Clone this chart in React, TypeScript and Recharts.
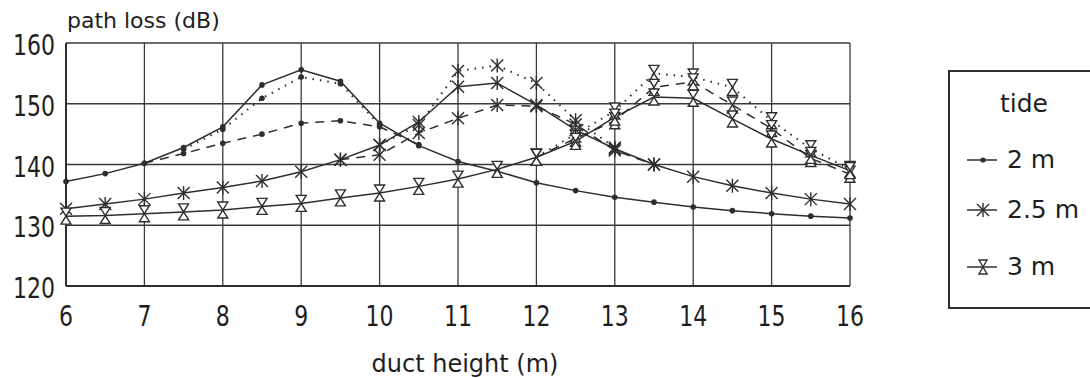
// Pfadverlust über Kanalhöhe für drei Tidenstände

import React from 'react';
import {
  LineChart,
  CartesianGrid,
  XAxis,
  YAxis,
  Line,
  Legend,
  Label,
} from 'recharts';

const INK = '#2e2e2e';
const FONT = '"DejaVu Sans", sans-serif';

// x-werte (m)
const ductHeight = [
  6, 6.5, 7, 7.5, 8, 8.5, 9, 9.5, 10, 10.5, 11, 11.5, 12, 12.5, 13, 13.5, 14,
  14.5, 15, 15.5, 16,
];

const xTicks = [6, 7, 8, 9, 10, 11, 12, 13, 14, 15, 16];
const yTicks = [120, 130, 140, 150, 160];

// tide 2 m
const tide2Solid = [
  137.2, 138.5, 140.2, 142.8, 146.2, 153.1, 155.6, 153.7, 146.8, 143.1, 140.5,
  138.9, 137.0, 135.7, 134.6, 133.8, 133.0, 132.4, 131.9, 131.5, 131.2,
];
const tide2Dotted = [
  null, null, null, 142.5, 145.8, 150.9, 154.4, 153.3, 146.5, null, null, null,
  null, null, null, null, null, null, null, null, null,
];
const tide2Dashed = [
  null, null, 140.2, 141.8, 143.5, 145.0, 146.8, 147.2, 146.2, 143.3, null,
  null, null, null, null, null, null, null, null, null, null,
];

// tide 2.5 m
const tide25Solid = [
  132.7, 133.5, 134.3, 135.3, 136.2, 137.3, 138.8, 140.8, 143.2, 147.0, 152.8,
  153.4, 149.8, 145.7, 142.6, 140.0, 138.0, 136.5, 135.3, 134.3, 133.5,
];
const tide25Dotted = [
  null, null, null, null, null, null, null, null, 143.2, 146.5, 155.4, 156.3,
  153.4, 147.3, 142.8, null, null, null, null, null, null,
];
const tide25Dashed = [
  null, null, null, null, null, null, null, 140.8, 141.6, 145.2, 147.6, 149.8,
  149.6, 146.6, 142.3, 140.0, null, null, null, null, null,
];

// tide 3 m
const tide3Solid = [
  131.5, 131.6, 131.9, 132.2, 132.5, 133.1, 133.6, 134.5, 135.3, 136.4, 137.6,
  139.2, 141.2, 143.8, 147.8, 151.1, 150.9, 147.5, 144.2, 141.5, 139.0,
];
const tide3Dotted = [
  null, null, null, null, null, null, null, null, null, null, null, null, 141.2,
  145.0, 148.8, 155.0, 154.4, 152.7, 147.2, 142.6, 139.2,
];
const tide3Dashed = [
  null, null, null, null, null, null, null, null, null, null, null, null, 141.2,
  144.3, 147.2, 152.7, 153.6, 149.8, 145.9, 141.0, 138.4,
];

const legendLabels = ['2 m', '2.5 m', '3 m'];

const chartData = ductHeight.map((d, i) => ({
  duct: d,
  t2s: tide2Solid[i],
  t2d: tide2Dotted[i],
  t2a: tide2Dashed[i],
  t25s: tide25Solid[i],
  t25d: tide25Dotted[i],
  t25a: tide25Dashed[i],
  t3s: tide3Solid[i],
  t3d: tide3Dotted[i],
  t3a: tide3Dashed[i],
}));

// marker formen
const Dot = ({ cx, cy, r = 2.8 }: any) => (
  <circle cx={cx} cy={cy} r={r} fill={INK} />
);

const Star = ({ cx, cy }: any) => (
  <g stroke={INK} strokeWidth={1.4}>
    <line x1={cx} y1={cy - 7} x2={cx} y2={cy + 7} />
    <line x1={cx - 6} y1={cy - 6} x2={cx + 6} y2={cy + 6} />
    <line x1={cx - 6} y1={cy + 6} x2={cx + 6} y2={cy - 6} />
  </g>
);

const Hourglass = ({ cx, cy, w = 5, h = 8 }: any) => (
  <path
    d={`M${cx - w},${cy - h}L${cx + w},${cy - h}L${cx - w},${cy + h}L${cx + w},${cy + h}Z`}
    fill="#fff"
    stroke={INK}
    strokeWidth={1.4}
  />
);

const markerFor = (Shape: any) => (props: any) => {
  const { cx, cy, index, dataKey } = props;
  if (cx == null || cy == null || props.value == null)
    return <g key={`${dataKey}-${index}`} />;
  return <Shape key={`${dataKey}-${index}`} cx={cx} cy={cy} />;
};

const YTick = ({ y, payload }: any) => (
  <g transform={`translate(55,${y}) scale(1,1.25)`}>
    <text x={0} y={9.6} textAnchor="end" fontSize={22} fontFamily={FONT} fill="#1e1e1e">
      {payload.value}
    </text>
  </g>
);

const XTick = ({ x, payload }: any) => (
  <g transform={`translate(${x},286) scale(1,1.3)`}>
    <text x={0} y={30.8} textAnchor="middle" fontSize={22} fontFamily={FONT} fill="#1e1e1e">
      {payload.value}
    </text>
  </g>
);

// legende als kasten rechts (rechter rand läuft aus dem bild)
const renderLegend = () => {
  const rowY = [90, 140, 197];
  const samples = [
    (cx: number, cy: number) => <Dot cx={cx} cy={cy} r={2.6} />,
    (cx: number, cy: number) => <Star cx={cx} cy={cy} />,
    (cx: number, cy: number) => <Hourglass cx={cx} cy={cy} w={4} h={7} />,
  ];
  return (
    <svg width={142} height={240} style={{ display: 'block' }}>
      <rect x={1} y={1} width={200} height={237} fill="none" stroke={INK} strokeWidth={2} />
      <text x={52} y={42} fontSize={25} fontFamily={FONT} fill="#1e1e1e">
        tide
      </text>
      {legendLabels.map((label, i) => (
        <g key={label}>
          <line x1={19} y1={rowY[i]} x2={49} y2={rowY[i]} stroke={INK} strokeWidth={1.5} />
          {samples[i](35, rowY[i])}
          <text x={59} y={rowY[i] + 8} fontSize={25} fontFamily={FONT} fill="#1e1e1e">
            {label}
          </text>
        </g>
      ))}
    </svg>
  );
};

const lineProps = {
  isAnimationActive: false,
  type: 'linear' as const,
  stroke: INK,
  strokeWidth: 1.5,
  activeDot: false,
};

const App = () => {
  return (
    <div style={{ position: 'absolute', left: 0, top: 0 }}>
      <LineChart
        width={1090}
        height={378}
        data={chartData}
        margin={{ top: 43, right: 240, bottom: 0, left: 0 }}
      >
        <CartesianGrid stroke="#3a3a3a" strokeWidth={1.3} />
        <XAxis
          dataKey="duct"
          type="number"
          domain={[6, 16]}
          ticks={xTicks}
          height={92}
          tickLine={false}
          axisLine={{ stroke: INK, strokeWidth: 2 }}
          tick={<XTick />}
          interval={0}
        >
          <Label
            content={() => (
              <text x={465} y={372} textAnchor="middle" fontSize={24} fontFamily={FONT} fill="#1e1e1e">
                duct height (m)
              </text>
            )}
          />
        </XAxis>
        <YAxis
          type="number"
          domain={[120, 160]}
          ticks={yTicks}
          width={66}
          tickLine={false}
          axisLine={{ stroke: INK, strokeWidth: 2 }}
          tick={<YTick />}
          interval={0}
        >
          <Label
            content={() => (
              <text x={67} y={28} fontSize={22} fontFamily={FONT} fill="#1e1e1e">
                path loss (dB)
              </text>
            )}
          />
        </YAxis>
        <Legend
          layout="vertical"
          align="center"
          verticalAlign="middle"
          content={renderLegend}
          wrapperStyle={{ position: 'absolute', left: 948, top: 70, width: 142, height: 240 }}
        />
        {/* gepunktete + gestrichelte varianten */}
        <Line {...lineProps} dataKey="t2d" strokeDasharray="1.5 6" strokeWidth={2} dot={markerFor(Dot)} />
        <Line {...lineProps} dataKey="t2a" strokeDasharray="9 7" dot={markerFor(Dot)} />
        <Line {...lineProps} dataKey="t25d" strokeDasharray="1.5 6" strokeWidth={2} dot={markerFor(Star)} />
        <Line {...lineProps} dataKey="t25a" strokeDasharray="9 7" dot={markerFor(Star)} />
        <Line {...lineProps} dataKey="t3d" strokeDasharray="1.5 6" strokeWidth={2} dot={markerFor(Hourglass)} />
        <Line {...lineProps} dataKey="t3a" strokeDasharray="9 7" dot={markerFor(Hourglass)} />
        {/* durchgezogene linien */}
        <Line {...lineProps} dataKey="t2s" dot={markerFor(Dot)} />
        <Line {...lineProps} dataKey="t25s" dot={markerFor(Star)} />
        <Line {...lineProps} dataKey="t3s" dot={markerFor(Hourglass)} />
      </LineChart>
    </div>
  );
};

export default App;
